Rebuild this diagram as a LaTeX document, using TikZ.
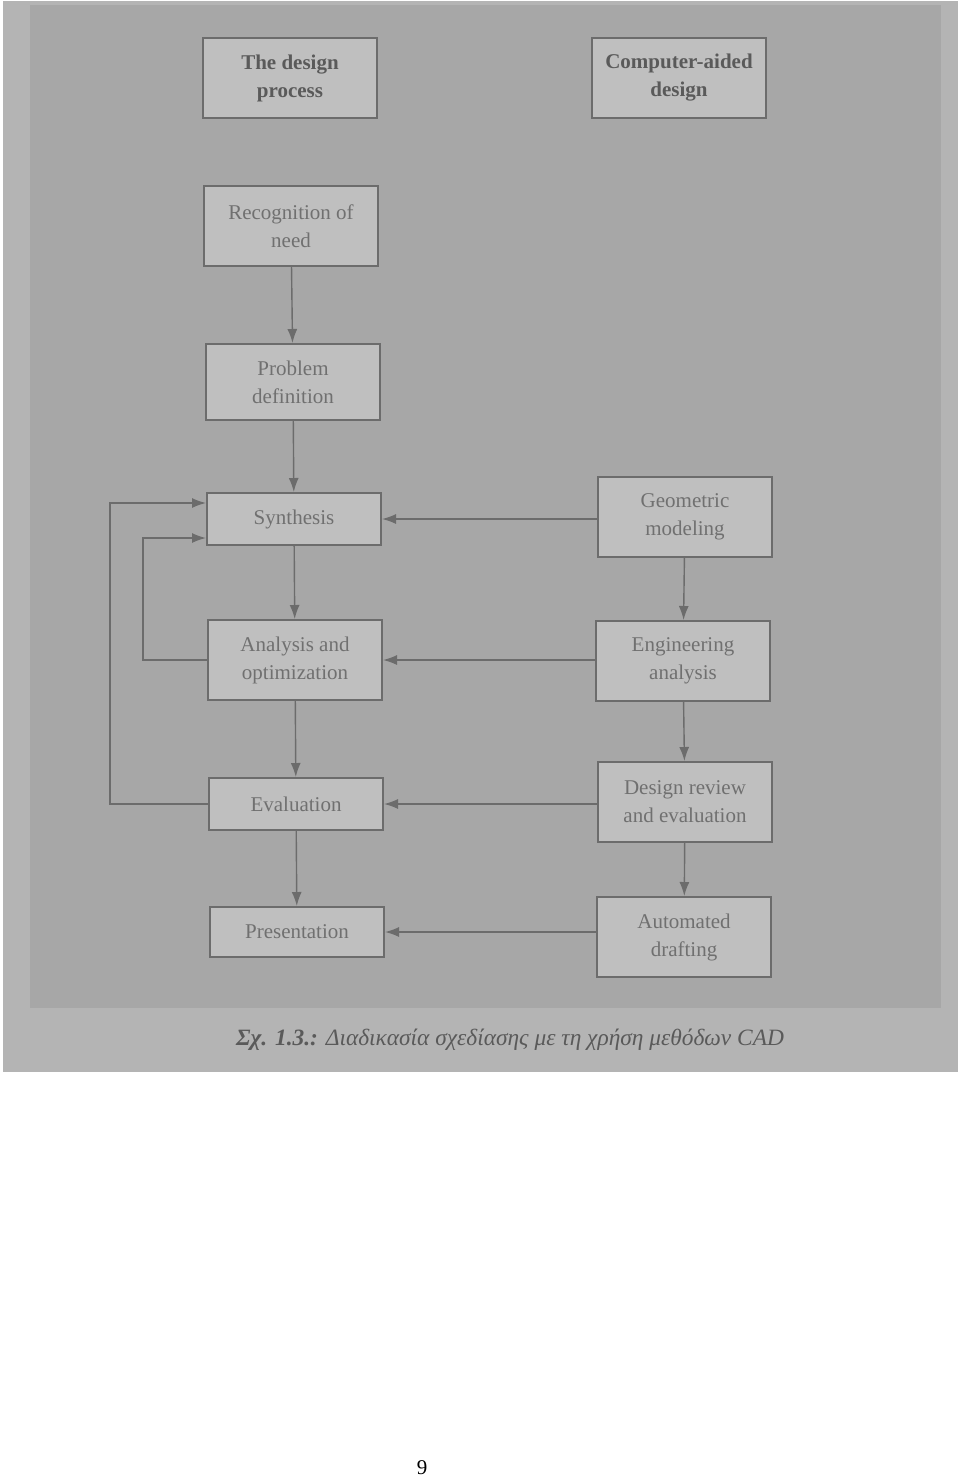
\documentclass[tikz,border=0pt]{standalone}
\usepackage{fontspec}
\setmainfont{Liberation Serif}
\usetikzlibrary{arrows.meta,positioning,calc}
\definecolor{scangray}{HTML}{B4B4B4}
\definecolor{plategray}{HTML}{A7A7A7}
\definecolor{boxgray}{HTML}{BFBFBF}
\definecolor{edgegray}{HTML}{6C6C6C}
\definecolor{inkgray}{HTML}{707070}
\definecolor{headink}{HTML}{5A5A5A}
\tikzset{
  stepbox/.style={draw=edgegray, fill=boxgray, line width=1pt,
    minimum width=87pt, minimum height=40pt, inner sep=2pt, align=center,
    font=\fontsize{10.5}{14}\selectfont, text=inkgray},
  flatbox/.style={stepbox, minimum height=26pt},
  headbox/.style={stepbox, font=\fontsize{10.5}{14}\selectfont\bfseries, text=headink},
  link/.style={-{Latex[length=7pt,width=5pt]}, line width=0.7pt, color=edgegray},
  capline/.style={font=\fontsize{11.7}{14}\selectfont\itshape, text=headink},
}

\begin{document}
\begin{tikzpicture}[x=0.5pt,y=-0.5pt]
  \fill[white] (0,0) rectangle (960,1479);
  \useasboundingbox (0,0) rectangle (960,1479);
  % the scanned plate
  \fill[scangray] (3,1) rectangle (958,1072);
  \fill[plategray] (30,5) rectangle (941,1008);

  % column heads
  \node[headbox] (headdesign) at (290,78) {The design\\process};
  \node[headbox] (headcad) at (679,78) {Computer-aided\\design};

  % the design process
  \node[stepbox] (recog) at (291,226) {Recognition of\\need};
  \node[stepbox, minimum height=38pt] (probdef) at (293,382) {Problem\\definition};
  \node[flatbox] (synth) at (294,519) {Synthesis};
  \node[stepbox] (analys) at (295,660) {Analysis and\\optimization};
  \node[flatbox] (evalu) at (296,804) {Evaluation};
  \node[flatbox, minimum height=25pt] (present) at (297,932) {Presentation};

  % computer-aided design
  \node[stepbox] (geomod) at (685,517) {Geometric\\modeling};
  \node[stepbox] (enganal) at (683,661) {Engineering\\analysis};
  \node[stepbox] (review) at (685,802) {Design review\\and evaluation};
  \node[stepbox] (drafting) at (684,937) {Automated\\drafting};

  \draw[link] (recog) -- (probdef);
  \draw[link] (probdef) -- (synth);
  \draw[link] (synth) -- (analys);
  \draw[link] (analys) -- (evalu);
  \draw[link] (evalu) -- (present);

  \draw[link] (geomod) -- (enganal);
  \draw[link] (enganal) -- (review);
  \draw[link] (review) -- (drafting);

  \draw[link] (geomod.west |- synth.east) -- (synth.east);
  \draw[link] (enganal.west |- analys.east) -- (analys.east);
  \draw[link] (review.west |- evalu.east) -- (evalu.east);
  \draw[link] (drafting.west |- present.east) -- (present.east);

  % feedback loops
  \coordinate (loopout) at (110,503);
  \coordinate (loopin) at (143,538);
  \draw[link] (evalu.west) -| (loopout) -- (loopout -| synth.west);
  \draw[link] (analys.west) -| (loopin) -- (loopin -| synth.west);

  \node[capline] (caption) at (510,1040) {\textbf{Σχ. 1.3.:} Διαδικασία σχεδίασης με τη χρήση μεθόδων CAD};
  \node[font=\fontsize{10.5}{12}\selectfont] (pagenum) at (422,1468) {9};
\end{tikzpicture}
\end{document}
